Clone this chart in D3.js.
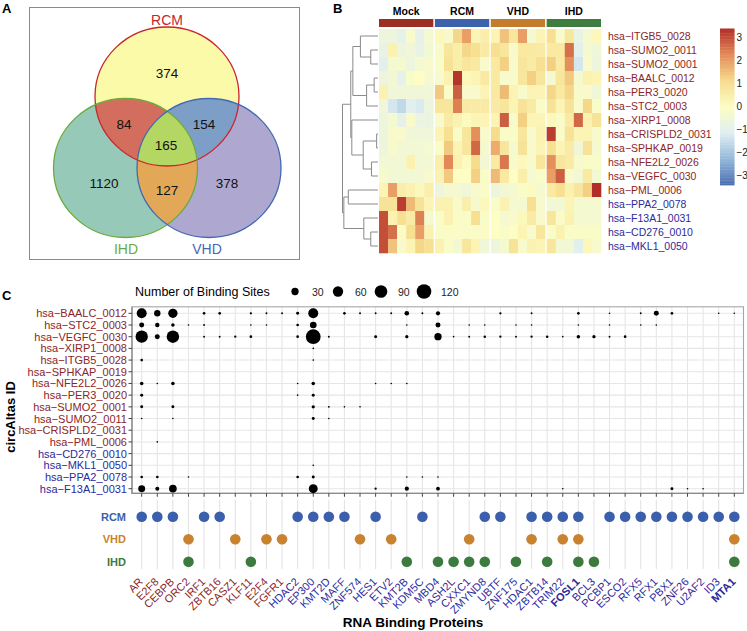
<!DOCTYPE html>
<html>
<head>
<meta charset="utf-8">
<script src="https://cdn.jsdelivr.net/npm/d3@7"></script>
<style>
  body { margin: 0; background: #fff; }
  text { font-family: "Liberation Sans", Arial, sans-serif; }
</style>
</head>
<body>
<svg id="fig" width="747" height="631"></svg>
<script>
// ---- panel A data
var vennSets = ['RCM', 'IHD', 'VHD'];
var vennRegions = ['RCM', 'RCM&IHD', 'RCM&VHD', 'RCM&IHD&VHD', 'IHD', 'IHD&VHD', 'VHD'];
var vennCounts = [374, 84, 154, 165, 1120, 127, 378];

// ---- panel B data
var heatGroups = ['Mock', 'RCM', 'VHD', 'IHD'];
var heatRows = ['hsa-ITGB5_0028', 'hsa-SUMO2_0011', 'hsa-SUMO2_0001', 'hsa-BAALC_0012', 'hsa-PER3_0020',
  'hsa-STC2_0003', 'hsa-XIRP1_0008', 'hsa-CRISPLD2_0031', 'hsa-SPHKAP_0019', 'hsa-NFE2L2_0026',
  'hsa-VEGFC_0030', 'hsa-PML_0006', 'hsa-PPA2_0078', 'hsa-F13A1_0031', 'hsa-CD276_0010', 'hsa-MKL1_0050'];
var heatValues = [
  [-0.6, -0.6, -0.9, -0.2, -0.9, -0.3,  0.2, -0.2, 1.2, 2.0, 0.3, 0.5,  0.3, 1.5, 0.8, 2.0, -0.3, 0.3,  1.0, -0.2, 0.8, -0.8, -0.3, 0.2],
  [-0.8, 0.4, -0.6, -0.5, -0.8, -0.4,  -0.2, 0.8, 0.5, 1.2, 1.0, 0.6,  1.0, 0.8, -0.2, 0.7, 0.7, 0.6,  0.7, 0.7, 2.6, -1.0, -0.3, -0.5],
  [-1.0, -0.3, -0.3, -0.6, -0.3, -0.2,  -0.1, 0.9, 0.5, 0.8, 0.7, -0.2,  0.7, 1.3, -0.2, 0.8, 0.6, 1.0,  1.3, 0.6, 2.2, -1.3, -0.2, -0.6],
  [-0.6, -0.4, -0.9, -0.1, 0.0, -0.3,  -0.2, 0.4, 3.3, 0.2, 0.3, 0.7,  0.7, -0.2, -0.2, 0.8, 1.3, 0.8,  -0.3, 0.8, 1.4, -0.3, 0.4, 0.3],
  [0.4, -0.5, -0.5, -0.5, -0.5, -0.5,  1.4, -0.1, 2.8, -0.2, -0.2, 0.3,  0.7, 1.6, 0.3, -0.2, 0.3, 0.3,  1.2, 0.7, 1.2, -0.2, -0.2, -0.5],
  [-0.5, -1.3, -1.6, -1.0, -1.2, -0.6,  0.8, 0.8, 2.4, 0.6, 0.6, 0.6,  0.6, 0.8, 0.3, 0.9, 0.6, -0.1,  0.9, 0.3, 0.9, -0.2, 1.2, -0.1],
  [-0.6, -0.3, -0.9, -0.2, -0.7, -0.7,  -0.2, 0.6, 0.4, 0.1, 0.3, 0.3,  0.3, 2.8, -0.2, 1.3, 0.3, 0.3,  0.2, -0.1, 0.6, 2.7, 0.4, 0.9],
  [-0.6, -0.2, -0.2, -0.5, -0.5, -0.5,  0.3, 1.0, -0.1, 0.8, 2.2, -0.2,  1.1, -0.1, -0.1, 0.8, -0.2, 0.4,  3.2, -0.1, 0.9, 0.3, 0.3, -0.2],
  [-0.6, -0.2, -0.4, -0.4, -0.4, -0.3,  -0.1, 1.4, 0.3, 0.8, 2.7, -0.3,  1.8, 0.8, -0.3, 0.9, -0.2, 0.3,  1.0, 0.3, 0.6, -0.5, 0.9, -0.3],
  [-0.4, -0.4, -0.4, 0.4, -0.4, -0.4,  0.5, 2.3, 0.4, 0.1, 1.1, -0.4,  0.6, 2.5, -0.2, 0.2, -0.2, 0.8,  2.2, 0.8, 0.6, -0.2, -0.1, -0.1],
  [-0.2, -0.4, -0.4, -0.4, -0.4, -0.2,  0.4, 1.4, 0.0, 0.0, 1.3, -0.1,  1.6, 0.7, 0.0, 0.5, -0.3, -0.1,  2.0, 2.8, -0.2, -0.4, 0.7, -0.4],
  [0.3, 2.0, 0.5, 0.4, 0.2, 0.5,  -0.6, -0.3, -0.3, -0.5, -0.2, -0.1,  -0.6, -0.4, -0.3, -0.1, 0.1, -0.3,  0.7, 1.0, 0.4, 0.8, 1.3, 3.4],
  [0.9, 0.9, 3.2, 1.6, 0.9, 0.3,  0.4, 0.4, -0.2, 0.5, -0.3, 0.2,  -0.1, 0.4, -0.3, -0.3, 1.0, -0.2,  -0.4, -0.4, 0.3, -0.3, -0.3, -0.3],
  [3.0, 0.4, 1.0, 0.6, 2.4, -0.3,  -0.1, 0.4, -0.1, -0.1, 1.0, -0.1,  0.0, -0.3, -0.2, 0.2, 0.6, -0.2,  0.8, -0.1, 0.4, -0.3, -0.3, -0.3],
  [3.0, 2.6, -0.1, 1.0, 2.0, 0.4,  -0.1, -0.1, -0.1, -0.1, -0.1, -0.1,  0.0, -0.1, 0.0, 0.3, -0.2, 0.8,  -0.1, 0.4, -0.1, -0.1, -0.1, -0.1],
  [3.0, 1.5, -0.2, 0.3, 1.2, 1.0,  0.4, -0.1, -0.4, 0.8, 0.3, -0.5,  -0.6, -0.3, 0.9, -0.2, 0.4, 0.3,  0.8, -0.4, -0.4, -1.0, 0.2, -0.2]
];
// hclust style merges: [left, right, height]; ids < 16 are rows, 16 + k is merge k
var dendroMerges = [
  [1, 2, 7], [0, 16, 17], [3, 4, 3.7], [18, 5, 11], [17, 19, 24.3],
  [7, 8, 1.3], [9, 10, 6.3], [21, 22, 14.3], [6, 23, 25.3], [20, 24, 26.3],
  [11, 12, 28.7], [14, 15, 7], [13, 27, 13.7], [26, 28, 33], [25, 29, 34.3]
];
var colorTicks = [3, 2, 1, 0, -1, -2, -3];

// ---- panel C data
var circRows = ['hsa-BAALC_0012', 'hsa-STC2_0003', 'hsa-VEGFC_0030', 'hsa-XIRP1_0008', 'hsa-ITGB5_0028',
  'hsa-SPHKAP_0019', 'hsa-NFE2L2_0026', 'hsa-PER3_0020', 'hsa-SUMO2_0001', 'hsa-SUMO2_0011',
  'hsa-CRISPLD2_0031', 'hsa-PML_0006', 'hsa-CD276_0010', 'hsa-MKL1_0050', 'hsa-PPA2_0078', 'hsa-F13A1_0031'];
var downCircs = ['hsa-PPA2_0078', 'hsa-F13A1_0031', 'hsa-CD276_0010', 'hsa-MKL1_0050'];
var rbps = ['AR', 'E2F8', 'CEBPB', 'ORC2', 'IRF1', 'ZBTB16', 'CASZ1', 'KLF11', 'E2F4', 'FGFR1',
  'HDAC2', 'EP300', 'KMT2D', 'MAFF', 'ZNF574', 'HES1', 'ETV2', 'KMT2B', 'KDM5C', 'MBD4',
  'ASH2L', 'CXXC1', 'ZMYND8', 'UBTF', 'ZNF175', 'HDAC1', 'ZBTB14', 'TRIM22', 'FOSL1', 'BCL3',
  'PCBP1', 'ESCO2', 'RFX5', 'RFX1', 'PBX1', 'ZNF26', 'U2AF2', 'ID3', 'MTA1'];
var redRbps = ['AR', 'E2F8', 'CEBPB', 'ORC2', 'IRF1', 'ZBTB16', 'CASZ1', 'KLF11', 'E2F4', 'FGFR1'];
var boldRbps = ['FOSL1', 'MTA1'];
var bindingSites = [
  ['BAALC_0012', 'AR', 56], ['BAALC_0012', 'E2F8', 23], ['BAALC_0012', 'CEBPB', 49], ['BAALC_0012', 'IRF1', 4],
  ['BAALC_0012', 'ZBTB16', 4], ['BAALC_0012', 'KLF11', 3], ['BAALC_0012', 'E2F4', 2], ['BAALC_0012', 'FGFR1', 2],
  ['BAALC_0012', 'HDAC2', 5], ['BAALC_0012', 'EP300', 56], ['BAALC_0012', 'MAFF', 4], ['BAALC_0012', 'ZNF574', 2],
  ['BAALC_0012', 'HES1', 2], ['BAALC_0012', 'ETV2', 2], ['BAALC_0012', 'KMT2B', 12], ['BAALC_0012', 'KDM5C', 2],
  ['BAALC_0012', 'MBD4', 10], ['BAALC_0012', 'UBTF', 3], ['BAALC_0012', 'HDAC1', 2], ['BAALC_0012', 'FOSL1', 4],
  ['BAALC_0012', 'PCBP1', 1.5], ['BAALC_0012', 'RFX5', 2], ['BAALC_0012', 'RFX1', 14], ['BAALC_0012', 'PBX1', 4],
  ['BAALC_0012', 'ID3', 1.5], ['BAALC_0012', 'MTA1', 1.5],
  ['STC2_0003', 'AR', 14], ['STC2_0003', 'E2F8', 11], ['STC2_0003', 'CEBPB', 7], ['STC2_0003', 'ORC2', 1.5],
  ['STC2_0003', 'IRF1', 2], ['STC2_0003', 'KLF11', 1.5], ['STC2_0003', 'E2F4', 1.5], ['STC2_0003', 'HDAC2', 4],
  ['STC2_0003', 'EP300', 25], ['STC2_0003', 'KMT2B', 1.5], ['STC2_0003', 'MBD4', 14], ['STC2_0003', 'CXXC1', 1.5],
  ['STC2_0003', 'ZMYND8', 1.5], ['STC2_0003', 'ZNF175', 1.5], ['STC2_0003', 'HDAC1', 1.5], ['STC2_0003', 'FOSL1', 1.5],
  ['STC2_0003', 'PCBP1', 1.5], ['STC2_0003', 'RFX5', 1.5], ['STC2_0003', 'RFX1', 1.5],
  ['VEGFC_0030', 'AR', 85], ['VEGFC_0030', 'E2F8', 14], ['VEGFC_0030', 'CEBPB', 88], ['VEGFC_0030', 'IRF1', 2],
  ['VEGFC_0030', 'ZBTB16', 2], ['VEGFC_0030', 'CASZ1', 3], ['VEGFC_0030', 'KLF11', 4], ['VEGFC_0030', 'HDAC2', 4],
  ['VEGFC_0030', 'EP300', 122], ['VEGFC_0030', 'KMT2D', 2], ['VEGFC_0030', 'HES1', 5], ['VEGFC_0030', 'KMT2B', 6],
  ['VEGFC_0030', 'MBD4', 30], ['VEGFC_0030', 'ASH2L', 1.5], ['VEGFC_0030', 'CXXC1', 2], ['VEGFC_0030', 'ZMYND8', 3.5],
  ['VEGFC_0030', 'UBTF', 3], ['VEGFC_0030', 'ZNF175', 2], ['VEGFC_0030', 'HDAC1', 3], ['VEGFC_0030', 'ZBTB14', 3.5],
  ['VEGFC_0030', 'TRIM22', 1.5], ['VEGFC_0030', 'FOSL1', 7], ['VEGFC_0030', 'BCL3', 6], ['VEGFC_0030', 'PCBP1', 2],
  ['VEGFC_0030', 'ESCO2', 4],
  ['XIRP1_0008', 'EP300', 1.5],
  ['ITGB5_0028', 'AR', 4], ['ITGB5_0028', 'EP300', 1.5],
  ['NFE2L2_0026', 'AR', 7], ['NFE2L2_0026', 'E2F8', 1.5], ['NFE2L2_0026', 'CEBPB', 7], ['NFE2L2_0026', 'HDAC2', 1.5],
  ['NFE2L2_0026', 'EP300', 7], ['NFE2L2_0026', 'HES1', 1.5], ['NFE2L2_0026', 'ETV2', 1.5], ['NFE2L2_0026', 'KMT2B', 1.5],
  ['PER3_0020', 'AR', 5], ['PER3_0020', 'HDAC2', 1.5], ['PER3_0020', 'EP300', 5],
  ['SUMO2_0001', 'AR', 5], ['SUMO2_0001', 'CEBPB', 5], ['SUMO2_0001', 'EP300', 6], ['SUMO2_0001', 'KMT2D', 2],
  ['SUMO2_0001', 'MAFF', 1.5], ['SUMO2_0001', 'ZNF574', 1.5],
  ['SUMO2_0011', 'AR', 1.5], ['SUMO2_0011', 'CEBPB', 1.5], ['SUMO2_0011', 'EP300', 5], ['SUMO2_0011', 'KMT2D', 1.5],
  ['PML_0006', 'E2F8', 1.5],
  ['MKL1_0050', 'EP300', 1.5],
  ['PPA2_0078', 'AR', 4], ['PPA2_0078', 'E2F8', 4], ['PPA2_0078', 'ORC2', 1.5], ['PPA2_0078', 'HDAC2', 4],
  ['PPA2_0078', 'EP300', 5], ['PPA2_0078', 'KMT2B', 1.5], ['PPA2_0078', 'KDM5C', 1.5], ['PPA2_0078', 'MBD4', 1.5],
  ['F13A1_0031', 'AR', 27], ['F13A1_0031', 'E2F8', 9], ['F13A1_0031', 'CEBPB', 33], ['F13A1_0031', 'EP300', 45],
  ['F13A1_0031', 'HES1', 3], ['F13A1_0031', 'KMT2B', 10], ['F13A1_0031', 'MBD4', 8], ['F13A1_0031', 'TRIM22', 1.5],
  ['F13A1_0031', 'PBX1', 5], ['F13A1_0031', 'ZNF26', 1.5], ['F13A1_0031', 'U2AF2', 1.5]
];
var sizeBreaks = [30, 60, 90, 120];
var diseases = ['RCM', 'VHD', 'IHD'];
var rcmRbps = ['AR', 'E2F8', 'CEBPB', 'IRF1', 'ZBTB16', 'HDAC2', 'EP300', 'KMT2D', 'MAFF', 'HES1', 'KDM5C',
  'ZMYND8', 'UBTF', 'HDAC1', 'ZBTB14', 'TRIM22', 'FOSL1', 'PCBP1', 'ESCO2', 'RFX5', 'RFX1', 'PBX1',
  'ZNF26', 'U2AF2', 'ID3', 'MTA1'];
var vhdRbps = ['ORC2', 'CASZ1', 'E2F4', 'FGFR1', 'ZNF574', 'ETV2', 'CXXC1', 'HDAC1', 'TRIM22', 'FOSL1', 'MTA1'];
var ihdRbps = ['ORC2', 'KLF11', 'KMT2B', 'MBD4', 'ASH2L', 'CXXC1', 'ZMYND8', 'ZNF175', 'ZBTB14', 'FOSL1', 'BCL3', 'MTA1'];

var RED_TXT = '#8b2626', BLUE_TXT = '#2d2a9c';
var minus = (s) => s.replace('-', '\u2212');
var svg = d3.select('#fig');

var main = () => {
  drawVenn();
  drawHeatmap();
  drawDots();
};

var panelLetter = (t, x, y) => {
  svg.append('text').attr('x', x).attr('y', y).text(t)
    .style('font-size', '13px').style('font-weight', 'bold');
};

var drawVenn = () => {
  panelLetter('A', 2, 13);
  var g = svg.append('g');
  g.append('rect').attr('x', 29.5).attr('y', 7.5).attr('width', 270).attr('height', 252)
    .style('fill', 'none').style('stroke', '#8a8a8a');

  var circ = {RCM: [167, 96.5], IHD: [125.5, 168], VHD: [209, 168]};
  var stroke = {RCM: '#c9252c', IHD: '#6aab3c', VHD: '#4468b4'};
  var fill = {'RCM': '#fafaa9', 'IHD': '#97c9b9', 'VHD': '#aea8d0',
    'RCM&IHD': '#d36e5f', 'RCM&VHD': '#7d9fc7', 'IHD&VHD': '#e2a857', 'RCM&IHD&VHD': '#b4d764'};
  var rx = 72, ry = 69.5;

  var defs = svg.append('defs');
  vennSets.forEach((s) => {
    defs.append('clipPath').attr('id', 'clip' + s).append('ellipse')
      .attr('cx', circ[s][0]).attr('cy', circ[s][1]).attr('rx', rx).attr('ry', ry);
  });

  // single sets first, then overlaps: last set's ellipse clipped by the others
  var order = vennRegions.slice().sort((a, b) => a.split('&').length - b.split('&').length);
  order.forEach((r) => {
    var sets = r.split('&');
    var last = sets[sets.length - 1];
    var host = g;
    sets.slice(0, -1).forEach((s) => { host = host.append('g').attr('clip-path', 'url(#clip' + s + ')'); });
    host.append('ellipse').attr('cx', circ[last][0]).attr('cy', circ[last][1]).attr('rx', rx).attr('ry', ry)
      .style('fill', fill[r]);
  });
  vennSets.forEach((s) => {
    g.append('ellipse').attr('cx', circ[s][0]).attr('cy', circ[s][1]).attr('rx', rx).attr('ry', ry)
      .style('fill', 'none').style('stroke', stroke[s]).style('stroke-width', 1.3);
  });

  var labelPos = {'RCM': [167, 77.5], 'RCM&IHD': [124, 129], 'RCM&VHD': [204, 129], 'RCM&IHD&VHD': [166, 150],
    'IHD': [104, 188], 'IHD&VHD': [167, 195], 'VHD': [227, 188]};
  vennRegions.forEach((r, i) => {
    g.append('text').attr('x', labelPos[r][0]).attr('y', labelPos[r][1]).attr('text-anchor', 'middle')
      .style('font-size', '13.5px').style('fill', '#111').text(vennCounts[i]);
  });
  var setLabel = {RCM: [167, 25], IHD: [126, 254], VHD: [207, 254]};
  vennSets.forEach((s) => {
    g.append('text').attr('x', setLabel[s][0]).attr('y', setLabel[s][1]).attr('text-anchor', 'middle')
      .style('font-size', '14px').style('fill', stroke[s]).text(s);
  });
};

var drawHeatmap = () => {
  panelLetter('B', 333, 13);
  var g = svg.append('g');
  var hx = d3.scaleBand().domain(heatGroups).range([379, 601]).paddingInner(0.028);
  var hsub = d3.scaleBand().domain(d3.range(6)).range([0, hx.bandwidth()]);
  var hy = d3.scaleBand().domain(heatRows).range([29, 253]);
  var pal = ['#4a6db0', '#93b8d8', '#dfeef2', '#fdfdc4', '#f6dc8c', '#e38b58', '#b12e28'];
  var color = d3.scaleLinear().domain([-3.4, -2.27, -1.13, 0, 1.13, 2.27, 3.4]).range(pal).clamp(true);
  var groupColor = {Mock: '#9b2f23', RCM: '#3d62ac', VHD: '#c27c2c', IHD: '#3f7c3f'};

  var cells = [];
  heatRows.forEach((r, i) => heatValues[i].forEach((v, j) => cells.push({r: r, g: heatGroups[Math.floor(j / 6)], k: j % 6, v: v})));
  g.selectAll('rect.cell').data(cells).enter().append('rect').attr('class', 'cell')
    .attr('x', (d) => hx(d.g) + hsub(d.k)).attr('y', (d) => hy(d.r))
    .attr('width', hsub.bandwidth() + 0.3).attr('height', hy.bandwidth() + 0.3)
    .style('fill', (d) => color(d.v));

  g.selectAll('rect.ann').data(heatGroups).enter().append('rect').attr('class', 'ann')
    .attr('x', (d) => hx(d)).attr('y', 19).attr('width', hx.bandwidth()).attr('height', 8)
    .style('fill', (d) => groupColor[d]);
  g.selectAll('text.grp').data(heatGroups).enter().append('text').attr('class', 'grp')
    .attr('x', (d) => hx(d) + hx.bandwidth() / 2).attr('y', 15).attr('text-anchor', 'middle')
    .style('font-size', '10.5px').style('font-weight', 'bold').text((d) => d);

  g.selectAll('text.row').data(heatRows).enter().append('text').attr('class', 'row')
    .attr('x', 608).attr('y', (d) => hy(d) + hy.bandwidth() / 2).attr('dy', '0.36em')
    .style('font-size', '10.5px').style('fill', (d) => downCircs.includes(d) ? BLUE_TXT : RED_TXT)
    .text((d) => minus(d));

  // dendrogram
  var dx = d3.scaleLinear().domain([0, 34.3]).range([378, 342.5]);
  var nodes = heatRows.map((r) => ({x: dx(0), y: hy(r) + hy.bandwidth() / 2}));
  dendroMerges.forEach((m) => {
    var a = nodes[m[0]], b = nodes[m[1]], x = dx(m[2]);
    g.append('path').attr('d', 'M' + a.x + ',' + a.y + 'H' + x + 'V' + b.y + 'H' + b.x)
      .style('fill', 'none').style('stroke', '#8a8a8a').style('stroke-width', 1);
    nodes.push({x: x, y: (a.y + b.y) / 2});
  });

  // colour legend
  var ly = d3.scaleLinear().domain([-3.4, 3.4]).range([185, 28.5]);
  var steps = d3.range(-3.4, 3.4, 0.068);
  g.selectAll('rect.leg').data(steps).enter().append('rect').attr('class', 'leg')
    .attr('x', 720).attr('width', 14.5).attr('y', (d) => ly(d + 0.068)).attr('height', Math.abs(ly(0) - ly(0.068)) + 0.4)
    .style('fill', (d) => color(d + 0.034));
  g.selectAll('text.lt').data(colorTicks).enter().append('text').attr('class', 'lt')
    .attr('x', 736.5).attr('y', (d) => ly(d)).attr('dy', '0.36em')
    .style('font-size', '10px').style('fill', '#222').text((d) => d < 0 ? '\u2212' + (-d) : d);
};

var drawDots = () => {
  panelLetter('C', 2, 300);
  var g = svg.append('g');
  var px = d3.scalePoint().domain(rbps).range([141.7, 734.3]);
  var py = d3.scalePoint().domain(circRows).range([313.3, 488.7]);
  var rs = d3.scaleSqrt().domain([0, 130]).range([0, 7.6]);
  var left = 132, right = 743.5, top = 306.8, bottom = 493.3;

  g.selectAll('line.vg').data(rbps).enter().append('line').attr('class', 'vg')
    .attr('x1', (d) => px(d)).attr('x2', (d) => px(d)).attr('y1', top).attr('y2', bottom)
    .style('stroke', '#e6e6e6').style('stroke-width', 1.1);
  g.selectAll('line.hg').data(circRows).enter().append('line').attr('class', 'hg')
    .attr('y1', (d) => py(d)).attr('y2', (d) => py(d)).attr('x1', left).attr('x2', right)
    .style('stroke', '#e6e6e6').style('stroke-width', 1.1);
  g.append('rect').attr('x', left).attr('y', top).attr('width', right - left).attr('height', bottom - top)
    .style('fill', 'none').style('stroke', '#a5a5a5').style('stroke-width', 1.1);
  g.append('path').attr('d', 'M' + left + ',' + top + 'V' + bottom + 'H' + right)
    .style('fill', 'none').style('stroke', '#8c8c8c').style('stroke-width', 1.3);

  g.selectAll('circle.site').data(bindingSites).enter().append('circle').attr('class', 'site')
    .attr('cx', (d) => px(d[1])).attr('cy', (d) => py('hsa-' + d[0])).attr('r', (d) => rs(d[2]))
    .style('fill', '#000');

  // axes
  g.selectAll('line.xt').data(rbps).enter().append('line').attr('class', 'xt')
    .attr('x1', (d) => px(d)).attr('x2', (d) => px(d)).attr('y1', bottom).attr('y2', bottom + 3.5)
    .style('stroke', '#444');
  g.selectAll('line.yt').data(circRows).enter().append('line').attr('class', 'yt')
    .attr('y1', (d) => py(d)).attr('y2', (d) => py(d)).attr('x1', left - 3.5).attr('x2', left)
    .style('stroke', '#444');
  g.selectAll('text.yl').data(circRows).enter().append('text').attr('class', 'yl')
    .attr('x', 127).attr('y', (d) => py(d)).attr('dy', '0.36em').attr('text-anchor', 'end')
    .style('font-size', '11px').style('fill', (d) => downCircs.includes(d) ? BLUE_TXT : RED_TXT)
    .text((d) => minus(d));
  g.append('text').attr('transform', 'translate(15,417) rotate(-90)').attr('text-anchor', 'middle')
    .style('font-size', '13px').style('font-weight', 'bold').text('circAltas ID');

  // size legend
  g.append('text').attr('x', 135).attr('y', 296).style('font-size', '12.5px').text('Number of Binding Sites');
  var lx = d3.scalePoint().domain(sizeBreaks).range([295, 424]);
  g.selectAll('circle.key').data(sizeBreaks).enter().append('circle').attr('class', 'key')
    .attr('cx', (d) => lx(d)).attr('cy', 291.5).attr('r', (d) => rs(d)).style('fill', '#000');
  g.selectAll('text.key').data(sizeBreaks).enter().append('text').attr('class', 'key')
    .attr('x', (d) => lx(d) + 17).attr('y', 295.5).style('font-size', '10.5px').style('fill', '#222').text((d) => d);

  // disease membership rows
  var my = d3.scalePoint().domain(diseases).range([516.7, 561.7]);
  var dColor = {RCM: '#3b5fab', VHD: '#c9822f', IHD: '#3d7a3d'};
  var members = {RCM: rcmRbps, VHD: vhdRbps, IHD: ihdRbps};
  g.selectAll('line.mg').data(rbps).enter().append('line').attr('class', 'mg')
    .attr('x1', (d) => px(d)).attr('x2', (d) => px(d)).attr('y1', 500).attr('y2', 569)
    .style('stroke', '#e3e3e3').style('stroke-width', 1.1);
  var mem = [];
  diseases.forEach((s) => members[s].forEach((r) => mem.push({s: s, r: r})));
  g.selectAll('circle.mem').data(mem).enter().append('circle').attr('class', 'mem')
    .attr('cx', (d) => px(d.r)).attr('cy', (d) => my(d.s)).attr('r', 5.3)
    .style('fill', (d) => dColor[d.s]);
  g.selectAll('text.ml').data(diseases).enter().append('text').attr('class', 'ml')
    .attr('x', 126).attr('y', (d) => my(d)).attr('dy', '0.36em').attr('text-anchor', 'end')
    .style('font-size', '11px').style('font-weight', 'bold').style('fill', (d) => dColor[d]).text((d) => d);

  g.selectAll('text.xl').data(rbps).enter().append('text').attr('class', 'xl')
    .attr('transform', (d) => 'translate(' + (px(d) + 2) + ',582.5) rotate(-45)').attr('text-anchor', 'end')
    .style('font-size', '11px').style('font-weight', (d) => boldRbps.includes(d) ? 'bold' : 'normal')
    .style('fill', (d) => redRbps.includes(d) ? RED_TXT : BLUE_TXT).text((d) => d);
  g.append('text').attr('x', 413).attr('y', 627).attr('text-anchor', 'middle')
    .style('font-size', '13.5px').style('font-weight', 'bold').text('RNA Binding Proteins');
};

main();
</script>
</body>
</html>
